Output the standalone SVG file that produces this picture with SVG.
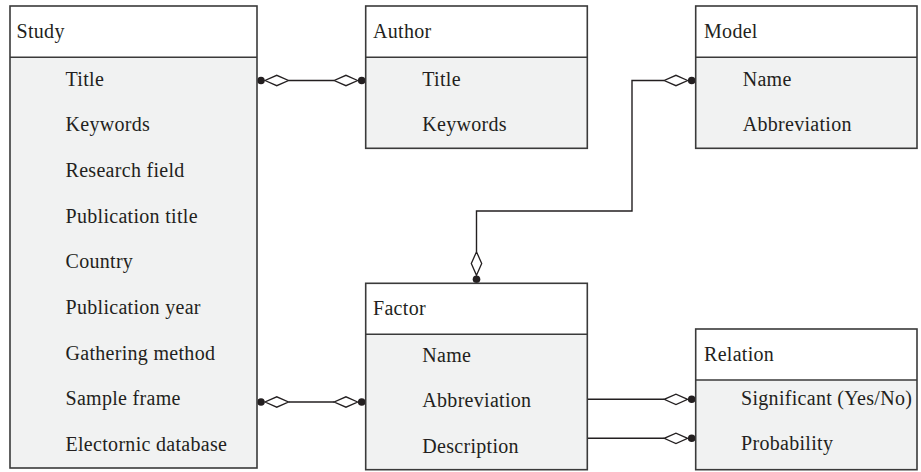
<svg xmlns="http://www.w3.org/2000/svg" xmlns:xlink="http://www.w3.org/1999/xlink" width="921" height="472" viewBox="0 0 921 472">
<style>
.hdr{fill:#ffffff;stroke:none}
.body{fill:#f1f2f2;stroke:none}
.frame{fill:none;stroke:#3a3a3a;stroke-width:1.6}
.sep{stroke:#3a3a3a;stroke-width:1.6}
text{font-family:"Liberation Serif","Times New Roman",serif;font-size:20px;letter-spacing:0.3px;fill:#231f20}
.conn{fill:none;stroke:#231f20;stroke-width:1.4}
</style>
<defs>
<g id="end">
<polygon points="-8,0 -19.75,-5.2 -31.5,0 -19.75,5.2" fill="#ffffff" stroke="#231f20" stroke-width="1.3"/>
<circle cx="-4" cy="0" r="3.8" fill="#231f20"/>
</g>
</defs>
<g id="connectors">
<path class="conn" d="M288.5,80.5 H334.2"/>
<use xlink:href="#end" transform="translate(257,80.5) rotate(180)"/>
<use xlink:href="#end" transform="translate(365.7,80.5)"/>
<path class="conn" d="M664.2,80.5 H632 V211 H476.5 V251.8"/>
<use xlink:href="#end" transform="translate(695.7,80.5)"/>
<use xlink:href="#end" transform="translate(476.5,283.3) rotate(90)"/>
<path class="conn" d="M288.5,402 H334.2"/>
<use xlink:href="#end" transform="translate(257,402) rotate(180)"/>
<use xlink:href="#end" transform="translate(365.7,402)"/>
<path class="conn" d="M587.3,399.3 H664.2"/>
<use xlink:href="#end" transform="translate(695.7,399.3)"/>
<path class="conn" d="M587.3,438.3 H664.2"/>
<use xlink:href="#end" transform="translate(695.7,438.3)"/>
</g>
<g id="study">
<rect class="body" x="10" y="6" width="247" height="462"/>
<rect class="hdr" x="10" y="6" width="247" height="51.3"/>
<rect class="frame" x="10" y="6" width="247" height="462"/>
<line class="sep" x1="10" y1="57.3" x2="257" y2="57.3"/>
<text x="16.5" y="38">Study</text>
<text x="65.5" y="85.7">Title</text>
<text x="65.5" y="131.3">Keywords</text>
<text x="65.5" y="177">Research field</text>
<text x="65.5" y="222.6">Publication title</text>
<text x="65.5" y="268.3">Country</text>
<text x="65.5" y="313.9">Publication year</text>
<text x="65.5" y="359.6">Gathering method</text>
<text x="65.5" y="405.2">Sample frame</text>
<text x="65.5" y="450.9">Electornic database</text>
</g>
<g id="author">
<rect class="body" x="365.7" y="6" width="221.6" height="142.3"/>
<rect class="hdr" x="365.7" y="6" width="221.6" height="51.3"/>
<rect class="frame" x="365.7" y="6" width="221.6" height="142.3"/>
<line class="sep" x1="365.7" y1="57.3" x2="587.3" y2="57.3"/>
<text x="373" y="38">Author</text>
<text x="422.3" y="85.7">Title</text>
<text x="422.3" y="131.3">Keywords</text>
</g>
<g id="model">
<rect class="body" x="695.7" y="6" width="221.3" height="142.3"/>
<rect class="hdr" x="695.7" y="6" width="221.3" height="51.3"/>
<rect class="frame" x="695.7" y="6" width="221.3" height="142.3"/>
<line class="sep" x1="695.7" y1="57.3" x2="917" y2="57.3"/>
<text x="704" y="38">Model</text>
<text x="742.7" y="85.7">Name</text>
<text x="742.7" y="131.3">Abbreviation</text>
</g>
<g id="factor">
<rect class="body" x="365.7" y="283.3" width="221.6" height="186.4"/>
<rect class="hdr" x="365.7" y="283.3" width="221.6" height="51"/>
<rect class="frame" x="365.7" y="283.3" width="221.6" height="186.4"/>
<line class="sep" x1="365.7" y1="334.3" x2="587.3" y2="334.3"/>
<text x="373" y="315.3">Factor</text>
<text x="422.3" y="361.7">Name</text>
<text x="422.3" y="407.4">Abbreviation</text>
<text x="422.3" y="453.2">Description</text>
</g>
<g id="relation">
<rect class="body" x="695.7" y="329" width="221.3" height="140.7"/>
<rect class="hdr" x="695.7" y="329" width="221.3" height="51"/>
<rect class="frame" x="695.7" y="329" width="221.3" height="140.7"/>
<line class="sep" x1="695.7" y1="380" x2="917" y2="380"/>
<text x="704" y="360.7">Relation</text>
<text x="741" y="405">Significant (Yes/No)</text>
<text x="741" y="450">Probability</text>
</g>
</svg>
